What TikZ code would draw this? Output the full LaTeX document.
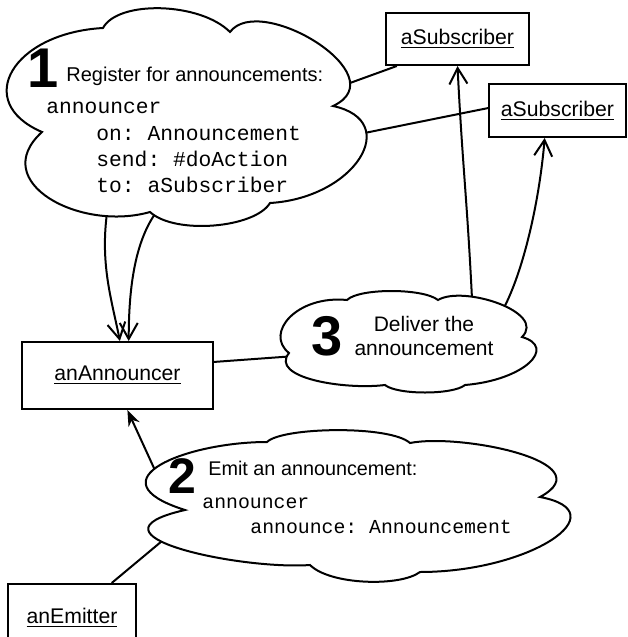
\documentclass[tikz,border=0pt]{standalone}
\usepackage{fontspec}
\setmainfont{Liberation Sans}
\setmonofont{Liberation Mono}
\usetikzlibrary{arrows.meta}
\tikzstyle{object}=[shape=rectangle,draw,line width=1pt,inner sep=0pt,font=\fontsize{10.6}{12}\selectfont]
\tikzstyle{bubble}=[draw,line width=1pt]
\tikzstyle{bignum}=[anchor=base west,inner sep=0pt,font=\fontsize{28}{28}\selectfont\bfseries]
\tikzstyle{say}=[anchor=base west,inner sep=0pt,font=\fontsize{10}{11}\selectfont]
\tikzstyle{code}=[anchor=base west,inner sep=0pt,font=\ttfamily\fontsize{10.65}{12}\selectfont]
\tikzstyle{link}=[line width=1pt]
\tikzstyle{send}=[line width=1pt,-{Straight Barb[length=8pt,width=9pt]}]
\tikzstyle{emit}=[line width=1pt,-{Stealth[length=8pt,width=6pt]}]

\begin{document}
\begin{tikzpicture}[x=0.5pt,y=-0.5pt]

		\useasboundingbox (0,0) rectangle (627,637);

		% cloud 1
		\draw[bubble] (42,132) .. controls (-28,102) and (13,33) .. (103,28)
			.. controls (118,0) and (200,2) .. (230,32)
			.. controls (260,-8) and (398,76) .. (333,106) coordinate[pos=0.8] (c1a)
			.. controls (403,121) and (355,198) .. (270,203) coordinate[pos=0.3] (c1b)
			.. controls (255,228) and (175,235) .. (150,212) coordinate[pos=0.95] (c1d)
			.. controls (80,232) and (-13,182) .. (42,132) coordinate[pos=0.2] (c1c) -- cycle;

		% cloud 2
		\draw[bubble] (185,510) .. controls (90,480) and (187,442) .. (267,442) coordinate[pos=0.45] (c2a)
			.. controls (282,427) and (390,425) .. (410,443)
			.. controls (460,433) and (605,462) .. (540,497)
			.. controls (620,512) and (530,572) .. (420,572)
			.. controls (400,587) and (330,585) .. (310,565)
			.. controls (240,570) and (75,535) .. (185,510) coordinate[pos=0.6] (c2b) -- cycle;

		% cloud 3
		\draw[bubble] (289,353) .. controls (264,333) and (297,295) .. (347,300)
			.. controls (359,288) and (423,288) .. (438,300)
			.. controls (463,285) and (547,312) .. (522,337) coordinate[pos=0.3] (c3b) coordinate[pos=0.55] (c3c)
			.. controls (557,347) and (525,380) .. (465,385)
			.. controls (453,395) and (397,395) .. (385,385)
			.. controls (345,390) and (269,378) .. (289,353) coordinate[pos=0.95] (c3a) -- cycle;

		% objects
		\node[object,minimum width=71.5pt,minimum height=26pt] (sub1) at (457.5,39) {\underline{aSubscriber}};
		\node[object,minimum width=68.5pt,minimum height=26.5pt] (sub2) at (557.5,110.5) {\underline{aSubscriber}};
		\node[object,minimum width=95.5pt,minimum height=33.5pt] (ann) at (117.5,375.5) {\underline{anAnnouncer}};
		\node[object,minimum width=64pt,minimum height=33.5pt] (emitter) at (72,617.5) {\underline{anEmitter}};

		% step 1
		\node[bignum] (n1) at (27,87) {1};
		\node[say] (t1) at (66,81) {Register for announcements:};
		\node[code] (k1a) at (46,113) {announcer};
		\node[code] (k1b) at (96,140) {on: Announcement};
		\node[code] (k1c) at (96,166) {send: \#doAction};
		\node[code] (k1d) at (96,192) {to: aSubscriber};

		% step 2
		\node[bignum,font=\fontsize{25}{25}\selectfont\bfseries] (n2) at (168,493) {2};
		\node[say,font=\fontsize{9.9}{11}\selectfont] (t2) at (208,475) {Emit an announcement:};
		\node[code,font=\ttfamily\fontsize{9.9}{12}\selectfont] (k2a) at (202,508) {announcer};
		\node[code,font=\ttfamily\fontsize{9.9}{12}\selectfont] (k2b) at (250,533) {announce: Announcement};

		% step 3
		\node[bignum] (n3) at (311,355) {3};
		\node[say,anchor=center,align=center,font=\fontsize{10.5}{12}\selectfont] (t3) at (424,336) {Deliver the\\announcement};

		% links
		\draw[link] (c1a) -- (sub1.204);
		\draw[link] (c1b) -- (sub2.178);
		\draw[send] (c1c) .. controls +(-6,50) and +(-8,-40) .. (ann.86);
		\draw[send] (c1d) .. controls +(-20,30) and +(0,-50) .. (ann.72);
		\draw[link] (ann.8) -- (c3a);
		\draw[send] (c3b) .. controls +(-5,-100) and +(5,100) .. (sub1.south);
		\draw[send] (c3c) .. controls +(20,-40) and +(-5,60) .. (sub2.245);
		\draw[emit] (c2a) -- (ann.286);
		\draw[link] (emitter.41) -- (c2b);

\end{tikzpicture}
\end{document}
